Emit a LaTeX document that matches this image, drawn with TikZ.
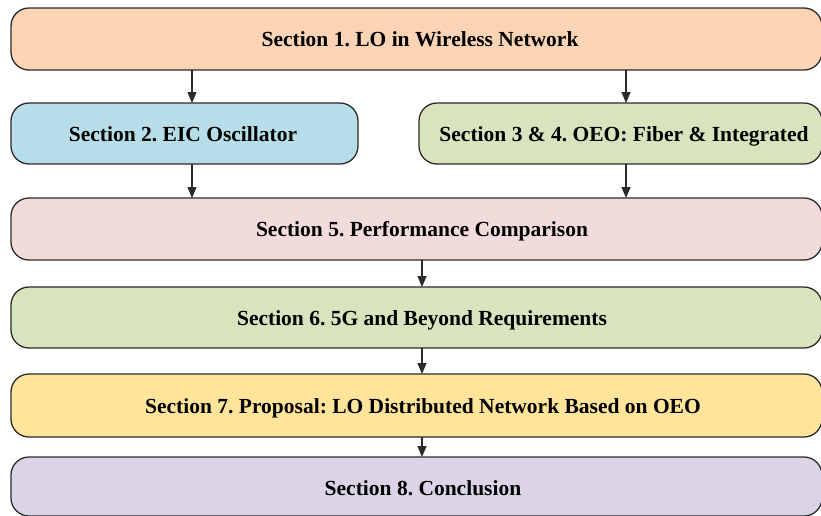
\documentclass[tikz,border=0pt]{standalone}
\usepackage{fontspec}
\newfontfamily\boxfont{Liberation Serif}
\usetikzlibrary{arrows.meta}
\definecolor{cPeach}{HTML}{FBD4B6}
\definecolor{cBlue}{HTML}{B6DDE8}
\definecolor{cGreen}{HTML}{D7E4BD}
\definecolor{cPink}{HTML}{F2DCDB}
\definecolor{cYellow}{HTML}{FFE499}
\definecolor{cLav}{HTML}{DAD4E6}
\definecolor{cLine}{HTML}{2B2B2B}
\begin{document}
\frenchspacing
\begin{tikzpicture}[x=1pt,y=-1pt,
  sbox/.style={draw=cLine, line width=1.3pt, rounded corners=18pt},
  lbl/.style={font=\boxfont\bfseries\fontsize{21.5}{24}\selectfont, text=black, inner sep=0pt, anchor=base},
  arr/.style={-{Triangle[length=11pt,width=9pt]}, line width=1.2pt, draw=cLine, fill=cLine}]
\useasboundingbox (0,0) rectangle (821,515);
\fill[white] (0,0) rectangle (821,515);
% boxes
\draw[sbox, fill=cPeach] (11,8) rectangle (822,70);
\node[lbl] (b1) at (420,46) {Section 1. LO in Wireless Network};
\draw[sbox, fill=cBlue] (11,103) rectangle (358,164);
\node[lbl] (b2) at (183,141) {Section 2. EIC Oscillator};
\draw[sbox, fill=cGreen] (419,103) rectangle (822,164);
\node[lbl] (b3) at (624,141) {Section 3 \& 4. OEO: Fiber \& Integrated};
\draw[sbox, fill=cPink] (11,198) rectangle (822,260);
\node[lbl] (b5) at (422,236) {Section 5. Performance Comparison};
\draw[sbox, fill=cGreen] (11,287) rectangle (822,348);
\node[lbl] (b6) at (422,325) {Section 6. 5G and Beyond Requirements};
\draw[sbox, fill=cYellow] (11,374) rectangle (822,437);
\node[lbl] (b7) at (423,413) {Section 7. Proposal: LO Distributed Network Based on OEO};
\draw[sbox, fill=cLav] (11,457) rectangle (822,516);
\node[lbl] (b8) at (423,495) {Section 8. Conclusion};
% connector anchor points
\coordinate (a1s) at (192,70);  \coordinate (a1e) at (192,103);
\coordinate (a2s) at (626,70);  \coordinate (a2e) at (626,103);
\coordinate (a3s) at (192,164); \coordinate (a3e) at (192,198);
\coordinate (a4s) at (626,164); \coordinate (a4e) at (626,198);
\coordinate (a5s) at (422,260); \coordinate (a5e) at (422,287);
\coordinate (a6s) at (422,348); \coordinate (a6e) at (422,374);
\coordinate (a7s) at (422,437); \coordinate (a7e) at (422,457);
\draw[arr] (a1s) -- (a1e);
\draw[arr] (a2s) -- (a2e);
\draw[arr] (a3s) -- (a3e);
\draw[arr] (a4s) -- (a4e);
\draw[arr] (a5s) -- (a5e);
\draw[arr] (a6s) -- (a6e);
\draw[arr] (a7s) -- (a7e);
\end{tikzpicture}
\end{document}
